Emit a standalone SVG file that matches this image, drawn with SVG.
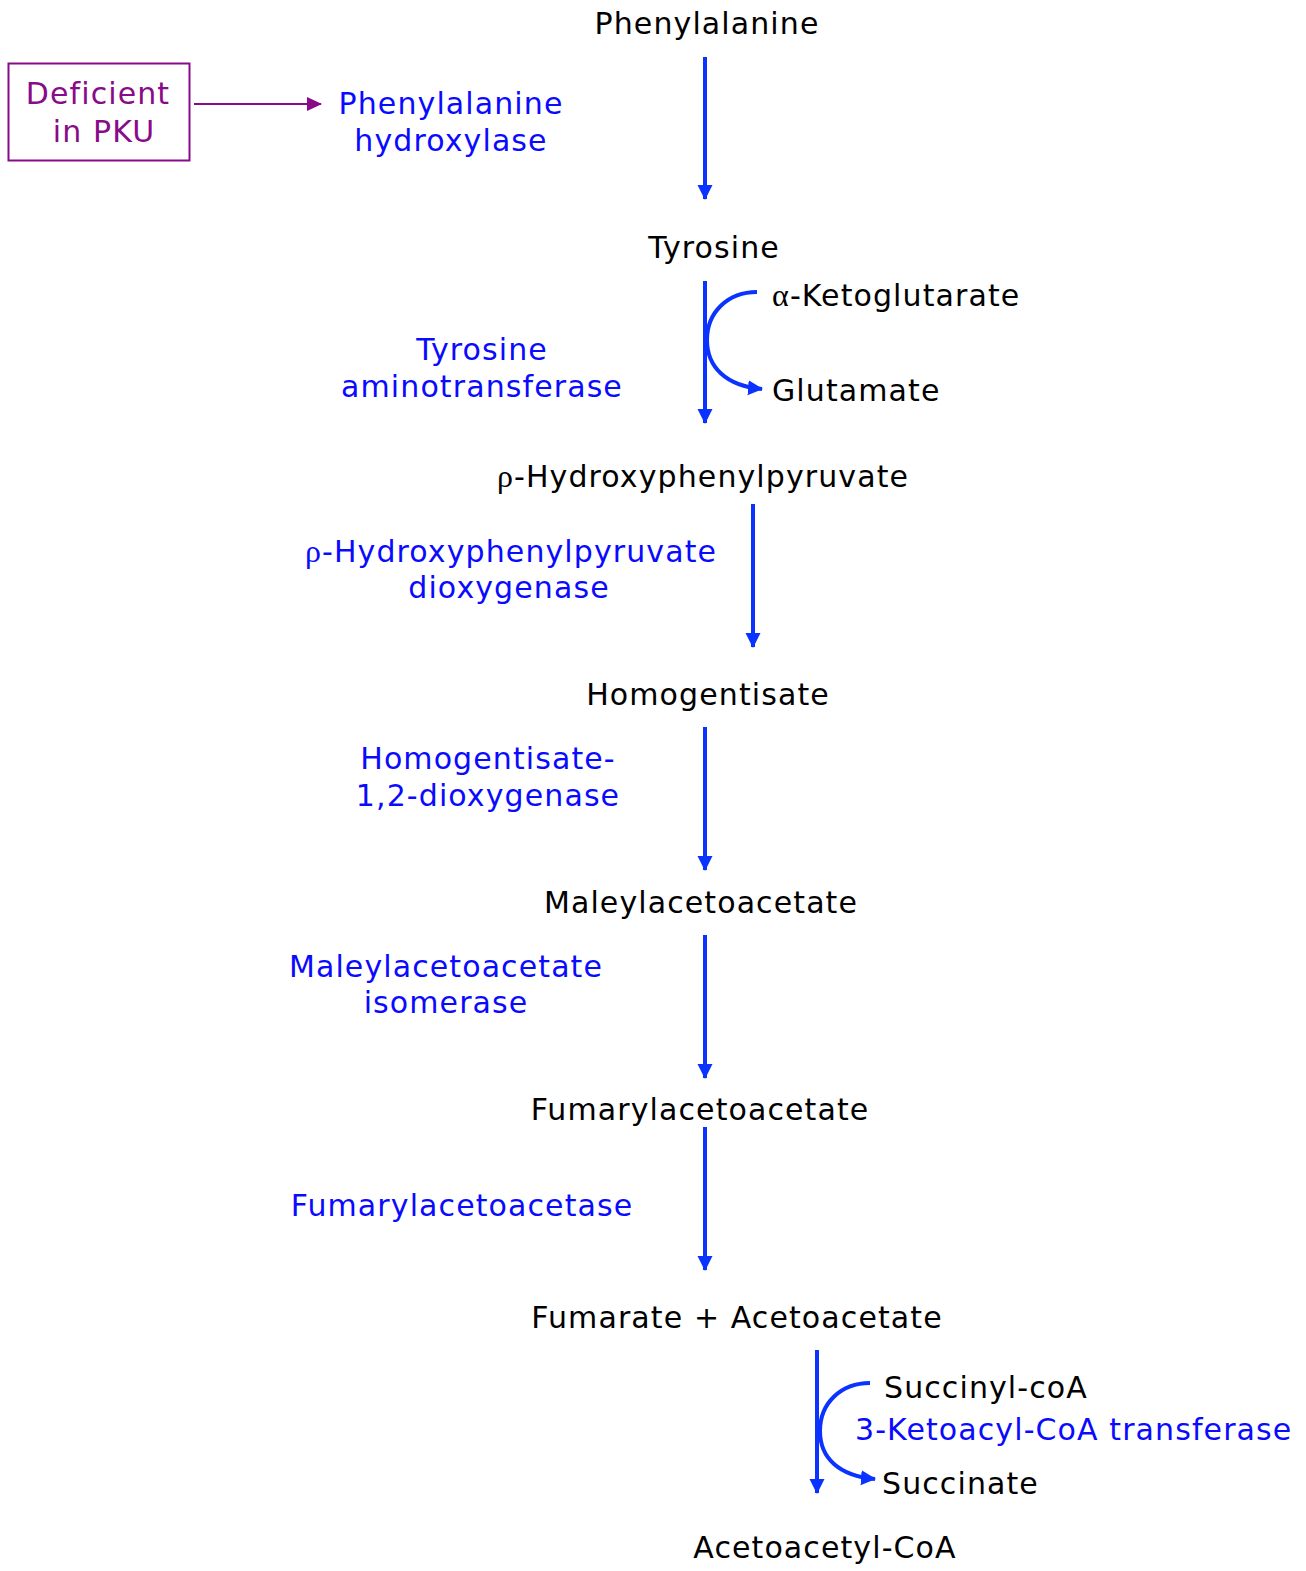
<svg xmlns="http://www.w3.org/2000/svg" width="1306" height="1571" viewBox="0 0 1306 1571">
  <style>
    text { font-family: "DejaVu Sans", Verdana, sans-serif; font-size: 30px; letter-spacing: 1.1px; }
    .met { fill: #000000; }
    .enz { fill: #0a0aff; }
    .pku { fill: #880b88; }
    .gk { font-family: "Liberation Serif", "Times New Roman", serif; font-size: 32px; }
    .flow { stroke: #0a33ff; stroke-width: 4; fill: none; marker-end: url(#blueHead); }
    .side { stroke: #0a33ff; stroke-width: 4; fill: none; marker-end: url(#blueHead); }
  </style>
  <defs>
    <marker id="blueHead" markerUnits="userSpaceOnUse" markerWidth="16" markerHeight="16" refX="14" refY="7.5" orient="auto">
      <path d="M0,0 L15,7.5 L0,15 Z" fill="#0a33ff"/>
    </marker>
    <marker id="purpleHead" markerUnits="userSpaceOnUse" markerWidth="16" markerHeight="16" refX="14" refY="7" orient="auto">
      <path d="M0,0 L15,7 L0,14 Z" fill="#880b88"/>
    </marker>
  </defs>

  <rect width="1306" height="1571" fill="#ffffff"/>

  <!-- reaction arrows -->
  <g id="connectors">
    <line class="flow" x1="705" y1="57" x2="705" y2="199"/>
    <line class="flow" x1="705" y1="281" x2="705" y2="423"/>
    <path class="side" d="M757,292 C728,292 707,312 707,340 C707,367 726,386 762,389"/>
    <line class="flow" x1="753" y1="504" x2="753" y2="647"/>
    <line class="flow" x1="705" y1="727" x2="705" y2="870"/>
    <line class="flow" x1="705" y1="935" x2="705" y2="1078"/>
    <line class="flow" x1="705" y1="1127" x2="705" y2="1270"/>
    <line class="flow" x1="817" y1="1350" x2="817" y2="1493"/>
    <path class="side" d="M870,1383 C841,1383 820,1403 820,1431 C820,1458 839,1476 875,1479"/>
    <line x1="194" y1="104" x2="321" y2="104" stroke="#880b88" stroke-width="2" marker-end="url(#purpleHead)"/>
  </g>

  <!-- metabolites -->
  <g id="phenylalanine"><text class="met" x="707" y="34" text-anchor="middle">Phenylalanine</text></g>
  <g id="tyrosine"><text class="met" x="714" y="258" text-anchor="middle">Tyrosine</text></g>
  <g id="ketoglutarate"><text class="met" x="772" y="306"><tspan class="gk">α</tspan>-Ketoglutarate</text></g>
  <g id="glutamate"><text class="met" x="772" y="401">Glutamate</text></g>
  <g id="hydroxyphenylpyruvate"><text class="met" x="703" y="487" text-anchor="middle"><tspan class="gk">ρ</tspan>-Hydroxyphenylpyruvate</text></g>
  <g id="homogentisate"><text class="met" x="708" y="705" text-anchor="middle">Homogentisate</text></g>
  <g id="maleylacetoacetate"><text class="met" x="701" y="913" text-anchor="middle">Maleylacetoacetate</text></g>
  <g id="fumarylacetoacetate"><text class="met" x="700" y="1120" text-anchor="middle">Fumarylacetoacetate</text></g>
  <g id="fumarate-acetoacetate"><text class="met" x="737" y="1328" text-anchor="middle">Fumarate + Acetoacetate</text></g>
  <g id="succinyl-coa"><text class="met" x="884" y="1398">Succinyl-coA</text></g>
  <g id="succinate"><text class="met" x="882" y="1494">Succinate</text></g>
  <g id="acetoacetyl-coa"><text class="met" x="825" y="1558" text-anchor="middle">Acetoacetyl-CoA</text></g>

  <!-- enzymes -->
  <g id="enz-pah">
    <text class="enz" x="451" y="114" text-anchor="middle">Phenylalanine</text>
    <text class="enz" x="451" y="151" text-anchor="middle">hydroxylase</text>
  </g>
  <g id="enz-tat">
    <text class="enz" x="482" y="360" text-anchor="middle">Tyrosine</text>
    <text class="enz" x="482" y="397" text-anchor="middle">aminotransferase</text>
  </g>
  <g id="enz-hppd">
    <text class="enz" x="511" y="562" text-anchor="middle"><tspan class="gk">ρ</tspan>-Hydroxyphenylpyruvate</text>
    <text class="enz" x="509" y="598" text-anchor="middle">dioxygenase</text>
  </g>
  <g id="enz-hgd">
    <text class="enz" x="488" y="769" text-anchor="middle">Homogentisate-</text>
    <text class="enz" x="488" y="806" text-anchor="middle">1,2-dioxygenase</text>
  </g>
  <g id="enz-mai">
    <text class="enz" x="446" y="977" text-anchor="middle">Maleylacetoacetate</text>
    <text class="enz" x="446" y="1013" text-anchor="middle">isomerase</text>
  </g>
  <g id="enz-fah">
    <text class="enz" x="462" y="1216" text-anchor="middle">Fumarylacetoacetase</text>
  </g>
  <g id="enz-scot">
    <text class="enz" x="855" y="1440">3-Ketoacyl-CoA transferase</text>
  </g>

  <!-- PKU note -->
  <g id="pku-note">
    <rect x="8.5" y="63.5" width="181" height="97" fill="none" stroke="#880b88" stroke-width="2"/>
    <text class="pku" x="98" y="104" text-anchor="middle">Deficient</text>
    <text class="pku" x="104" y="142" text-anchor="middle">in PKU</text>
  </g>
</svg>
